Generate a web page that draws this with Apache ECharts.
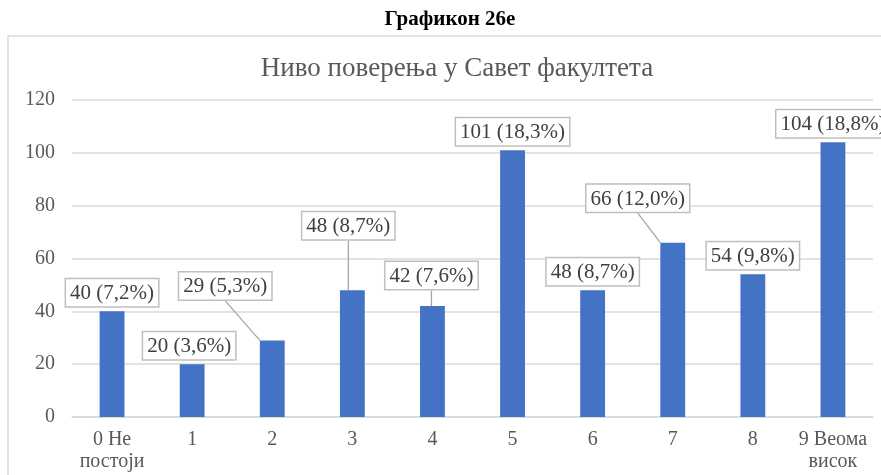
<!DOCTYPE html>
<html>
<head>
<meta charset="utf-8">
<script src="https://cdn.jsdelivr.net/npm/echarts@6/dist/echarts.min.js"></script>
<style>
  html, body { margin: 0; padding: 0; background: #fff; }
  #chart { width: 881px; height: 475px; }
</style>
</head>
<body>
<div id="chart"></div>
<script>
// data
const categories = ['0 Не\nпостоји', '1', '2', '3', '4', '5', '6', '7', '8', '9 Веома\nвисок']
const counts = [40, 20, 29, 48, 42, 101, 48, 66, 54, 104]
const percents = ['7,2', '3,6', '5,3', '8,7', '7,6', '18,3', '8,7', '12,0', '9,8', '18,8']
const yTicks = [0, 20, 40, 60, 80, 100, 120]

// labels that Excel moved off their bars (dx, dy), with a leader line
const moved = {
    1: [-3, 0, false],
    2: [-47, -36, true],
    3: [-4, -46, true],
    4: [-1, -12, true],
    7: [-35, -26, true]
}

const serif = "'Liberation Serif', 'Times New Roman', serif"

const chart = echarts.init(document.getElementById('chart'))
const option = {
    backgroundColor: '#fff',
    animation: false,
    textStyle: { fontFamily: serif },
    title: [
        {
            text: 'Графикон 26е',
            left: 445,
            textAlign: 'center',
            top: 4,
            textStyle: { fontFamily: serif, fontSize: 21, fontWeight: 'bold', color: '#000' }
        },
        {
            text: 'Ниво поверења у Савет факултета',
            left: 452,
            textAlign: 'center',
            top: 50,
            textStyle: { fontFamily: serif, fontSize: 27, fontWeight: 'normal', color: '#595959' }
        }
    ],
    graphic: [{
        type: 'rect',
        shape: { x: 8, y: 36, width: 900, height: 500 },
        style: { fill: 'none', stroke: '#d9d9d9', lineWidth: 1.5 },
        z: -1
    }],
    grid: { left: 72, right: 8, top: 100, bottom: 58 },
    xAxis: {
        type: 'category',
        data: categories,
        axisTick: { show: false },
        axisLine: { lineStyle: { color: '#d9d9d9', width: 1.5 } },
        axisLabel: { color: '#595959', fontSize: 20, fontFamily: serif, margin: 12, lineHeight: 22, interval: 0 }
    },
    yAxis: {
        type: 'value',
        min: yTicks[0],
        max: yTicks[yTicks.length - 1],
        interval: 20,
        axisLine: { show: false },
        axisTick: { show: false },
        axisLabel: { color: '#595959', fontSize: 20, fontFamily: serif, margin: 17 },
        splitLine: { lineStyle: { color: '#d9d9d9', width: 1.5 } }
    },
    series: [{
        type: 'bar',
        barWidth: '31%',
        itemStyle: { color: '#4472c4' },
        data: counts.map((v, i) => ({
            value: v,
            labelLine: { show: !!(moved[i] && moved[i][2]) }
        })),
        label: {
            show: true,
            position: 'top',
            distance: 5,
            formatter: p => p.value + ' (' + percents[p.dataIndex] + '%)',
            fontFamily: serif,
            fontSize: 21,
            color: '#404040',
            backgroundColor: '#fff',
            borderColor: '#bfbfbf',
            borderWidth: 1.5,
            padding: [4, 4, 2, 4]
        },
        labelLine: {
            lineStyle: { color: '#a6a6a6', width: 1.3 }
        },
        labelLayout: function (params) {
            const m = moved[params.dataIndex]
            return m ? { dx: m[0], dy: m[1] } : {}
        }
    }]
}
chart.setOption(option)
</script>
</body>
</html>
